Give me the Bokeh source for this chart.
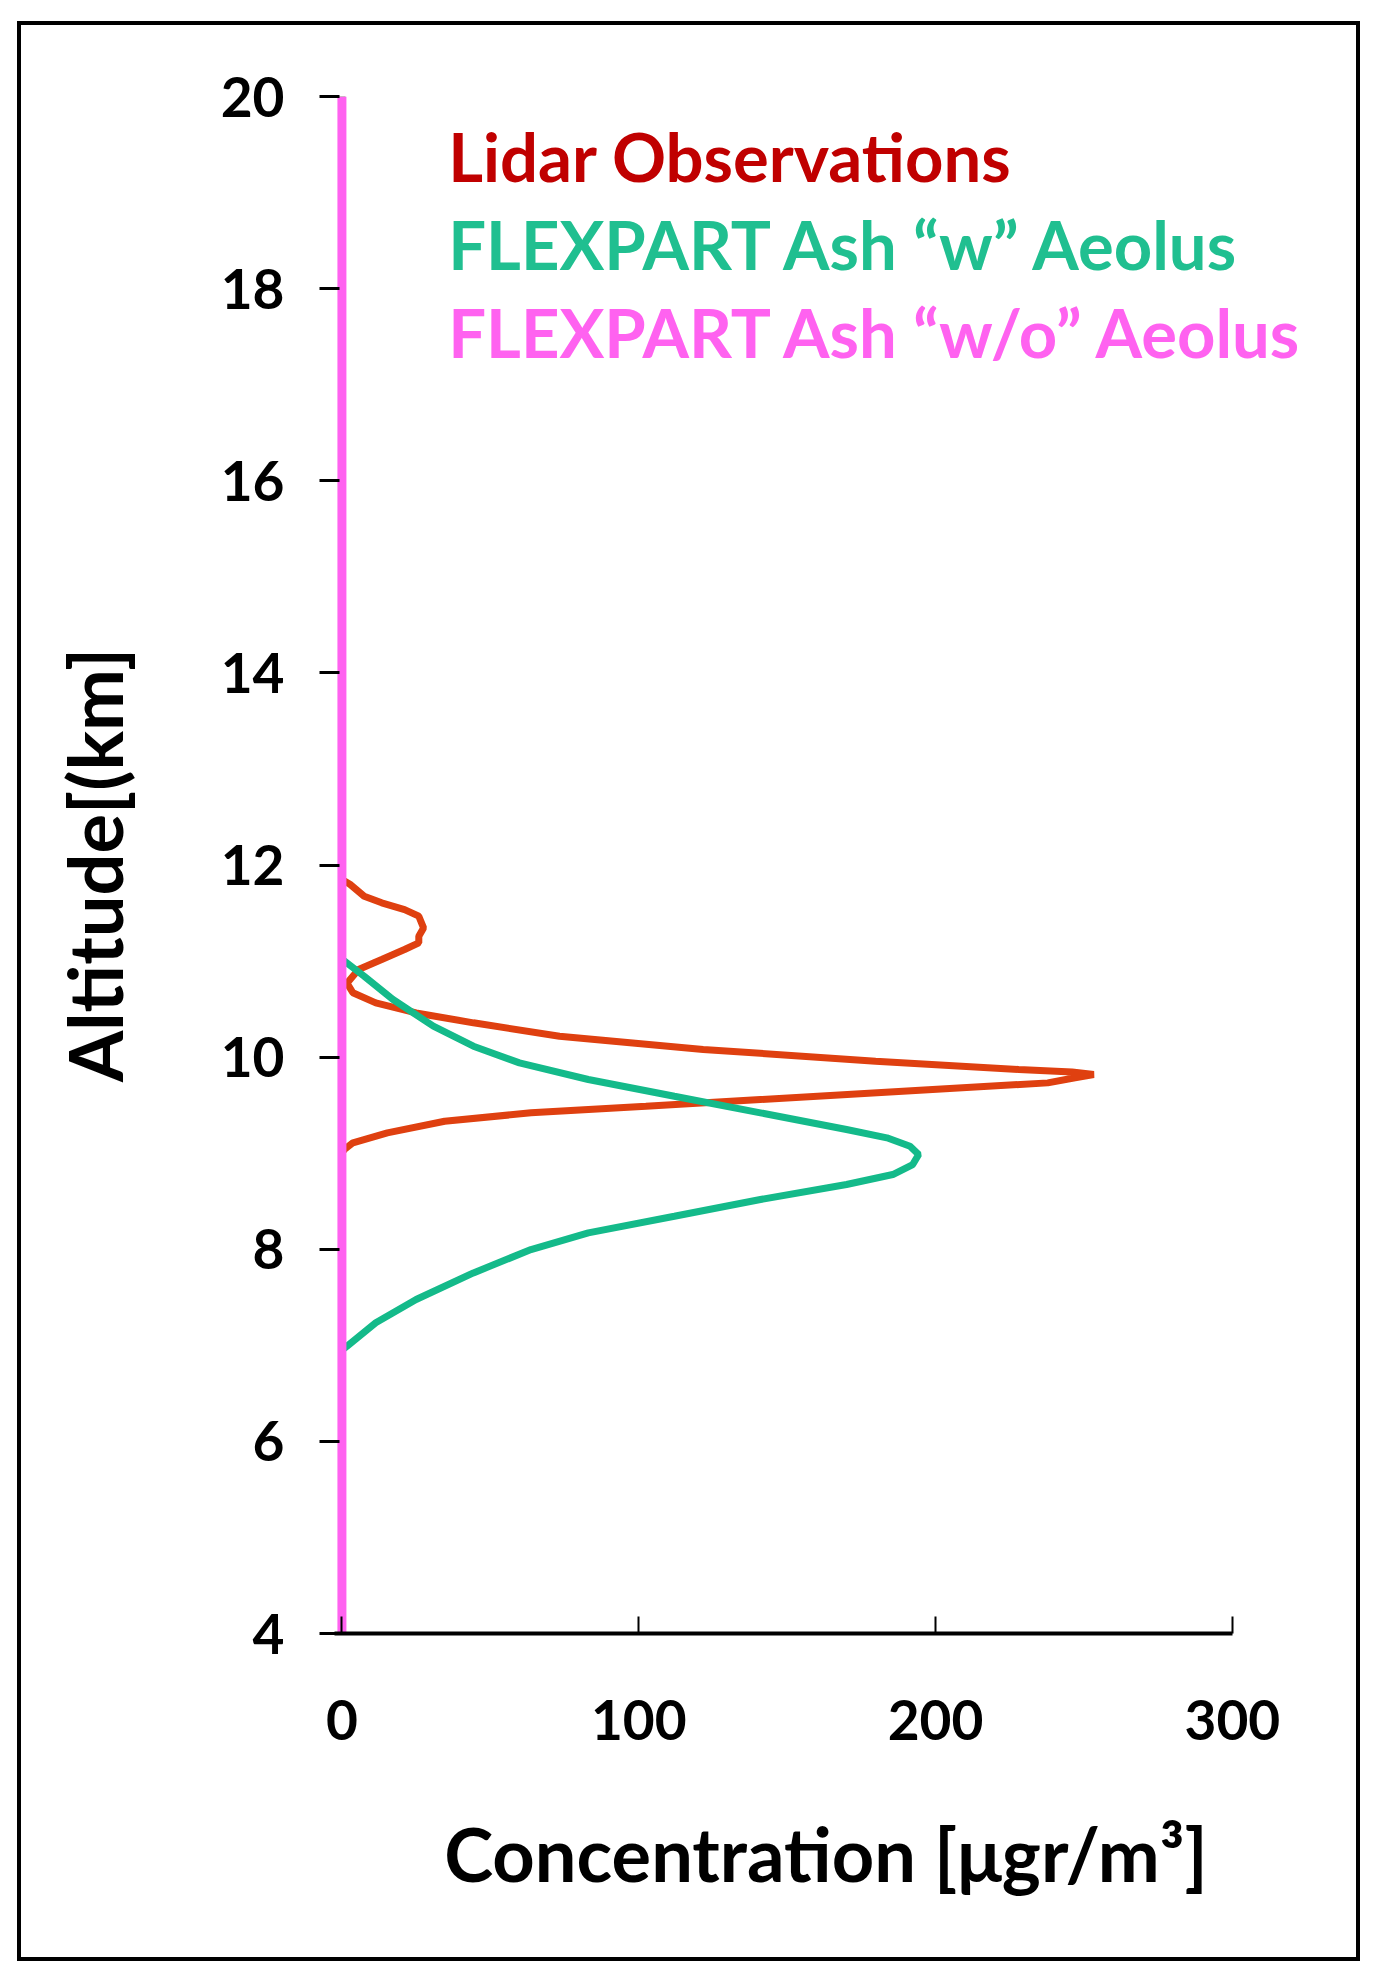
from bokeh.plotting import figure
from bokeh.models import Range1d, Label, FixedTicker, Spacer
from bokeh.layouts import row, column
from bokeh.embed import file_html
from bokeh.resources import INLINE

# Lidar observations (concentration, altitude)
lidar_conc = [0, 0, 2.7, 7.5, 13.4, 21.1, 25.9, 27.5, 25.9, 25.9, 21.1, 13.4, 5.6, 1.7, 3.7, 11.4, 25.0,
              44.3, 73.3, 121.7, 179.8, 228.0, 246.0, 253.3, 247.0, 237.8, 199.0, 141.0, 102.4, 63.7, 34.6,
              15.3, 3.7, 0.8, 0, 0]
lidar_alt = [20.0, 11.85, 11.80, 11.675, 11.606, 11.536, 11.467, 11.345, 11.259, 11.19, 11.12, 11.016, 10.912,
             10.77, 10.67, 10.565, 10.46, 10.357, 10.218, 10.08, 9.958, 9.871, 9.845, 9.819, 9.785, 9.732,
             9.663, 9.559, 9.489, 9.42, 9.333, 9.212, 9.108, 9.038, 9.0, 4.0]

# FLEXPART ash with Aeolus
flex_w_conc = [0, 0, 1.7, 7.5, 17.2, 30.8, 44.3, 59.8, 83.0, 112.0, 141.0, 170.0, 183.6, 191.4, 194.3, 192.3,
               185.6, 170.0, 141.0, 112.0, 83.0, 63.7, 44.3, 25.0, 11.4, 1.7, 0, 0]
flex_w_alt = [20.0, 11.02, 10.98, 10.842, 10.60, 10.322, 10.114, 9.94, 9.767, 9.593, 9.42, 9.247, 9.16, 9.073,
              8.986, 8.882, 8.778, 8.674, 8.518, 8.344, 8.171, 7.997, 7.754, 7.477, 7.234, 6.99, 6.95, 4.0]

# FLEXPART ash without Aeolus
flex_wo_conc = [0, 0]
flex_wo_alt = [4.0, 20.0]

x_ticks = [0, 100, 200, 300]
y_ticks = [4, 6, 8, 10, 12, 14, 16, 18, 20]

series_names = ["Lidar Observations", "FLEXPART Ash \u201cw\u201d Aeolus", "FLEXPART Ash \u201cw/o\u201d Aeolus"]

FONT = "Lato"
RED_TXT = "#C00000"
RED_LINE = "#DF4010"
GREEN_TXT = "#20BF90"
GREEN_LINE = "#14BA8A"
MAGENTA = "#FF62F0"

p = figure(width=1343, height=1940, output_backend="svg", toolbar_location=None,
           x_range=Range1d(-2.5, 328), y_range=Range1d(4, 20),
           min_border_left=313, min_border_right=49, min_border_top=71, min_border_bottom=332)
p.styles = {"border": "4px solid black"}
p.outline_line_color = None
p.xgrid.visible = False
p.ygrid.visible = False
p.background_fill_color = "white"
p.border_fill_color = "white"

p.line(lidar_conc, lidar_alt, line_color=RED_LINE, line_width=7)
p.line(flex_w_conc, flex_w_alt, line_color=GREEN_LINE, line_width=7)
p.line(flex_wo_conc, flex_wo_alt, line_color=MAGENTA, line_width=9)

xa = p.xaxis[0]
xa.ticker = FixedTicker(ticks=x_ticks)
xa.bounds = (-2.5, 300)
xa.axis_line_width = 4
xa.axis_line_color = "black"
xa.major_tick_in = 17
xa.major_tick_out = 0
xa.major_tick_line_width = 2
xa.minor_tick_line_color = None
xa.major_label_standoff = 66
xa.major_label_text_font = FONT
xa.major_label_text_font_size = "55px"
xa.major_label_text_font_style = "bold"
xa.major_label_text_color = "black"
xa.axis_label = "Concentration [\u03bcgr/m\u00b3]"
xa.axis_label_text_font = FONT
xa.axis_label_text_font_size = "74px"
xa.axis_label_text_font_style = "bold"
xa.axis_label_text_color = "black"
xa.axis_label_standoff = 66

ya = p.yaxis[0]
ya.ticker = FixedTicker(ticks=y_ticks)
ya.axis_line_color = None
ya.major_tick_in = 5
ya.major_tick_out = 15
ya.major_tick_line_width = 3
ya.minor_tick_line_color = None
ya.major_label_standoff = 35
ya.major_label_text_font = FONT
ya.major_label_text_font_size = "55px"
ya.major_label_text_font_style = "bold"
ya.major_label_text_color = "black"
ya.axis_label = "Altitude[(km]"
ya.axis_label_text_font = FONT
ya.axis_label_text_font_size = "74px"
ya.axis_label_text_font_style = "bold"
ya.axis_label_text_color = "black"
ya.axis_label_standoff = 79

legend_y = [19.38, 18.46, 17.55]
legend_colors = [RED_TXT, GREEN_TXT, MAGENTA]
for name, yy, col in zip(series_names, legend_y, legend_colors):
    p.add_layout(Label(x=35.8, y=yy, text=name, text_color=col, text_font=FONT,
                       text_font_size="67px", text_font_style="bold", text_baseline="middle"))

layout = column(Spacer(height=21, width=17), row(Spacer(width=17, height=10), p))
open("out.html", "w").write(file_html(layout, INLINE))
